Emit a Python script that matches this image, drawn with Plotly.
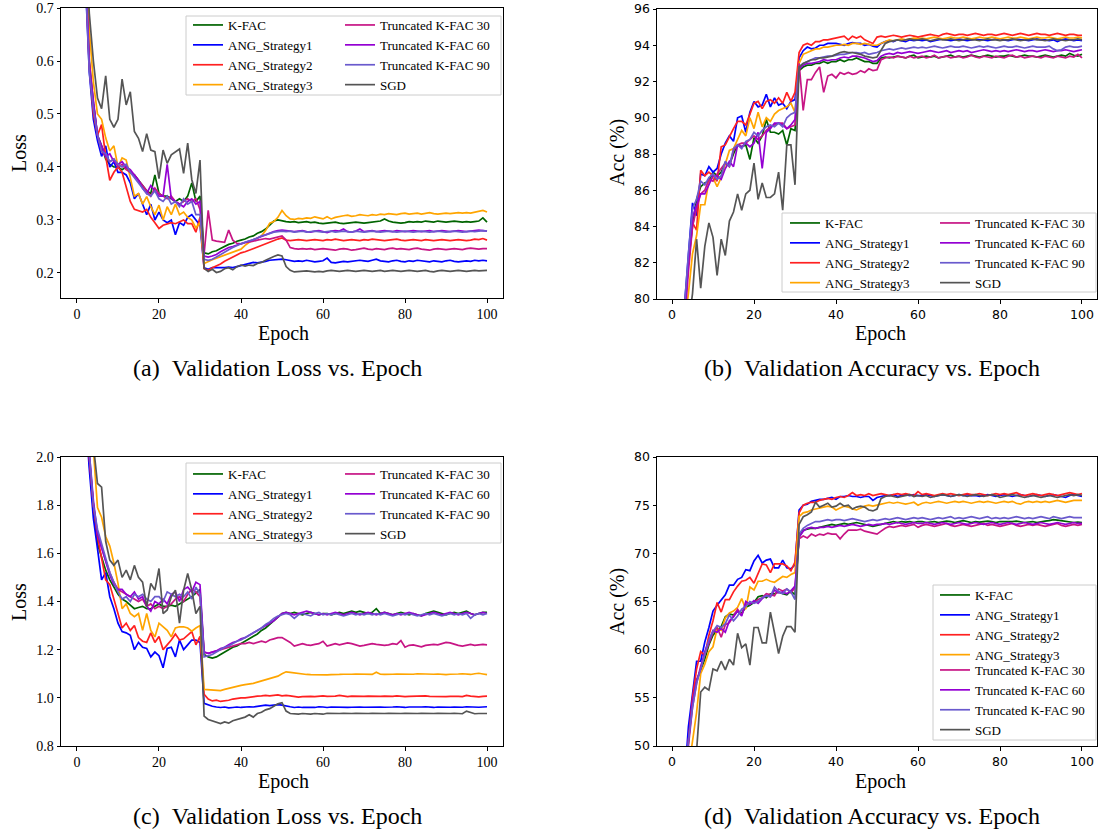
import plotly.graph_objects as go

EPOCHS = list(range(1, 101))
NAMES = ["K-FAC", "ANG_Strategy1", "ANG_Strategy2", "ANG_Strategy3",
         "Truncated K-FAC 30", "Truncated K-FAC 60", "Truncated K-FAC 90", "SGD"]
COLORS = ["#006400", "#0000ff", "#ff2020", "#ffa500",
          "#c71585", "#9400d3", "#6a5acd", "#555555"]

# ---------------- (a) validation loss ----------------
LOSS_A_KFAC = [1.30, 0.80, 0.60, 0.52, 0.46, 0.44, 0.415, 0.405, 0.40, 0.40,
    0.395, 0.40, 0.39, 0.385, 0.375, 0.365, 0.355, 0.35, 0.385, 0.35,
    0.345, 0.345, 0.34, 0.335, 0.34, 0.335, 0.345, 0.37, 0.335, 0.345,
    0.238, 0.236, 0.24, 0.242, 0.246, 0.25, 0.254, 0.256, 0.26, 0.262,
    0.264, 0.268, 0.27, 0.275, 0.278, 0.283, 0.29, 0.298, 0.30, 0.298,
    0.297, 0.296, 0.297, 0.295, 0.296, 0.297, 0.295, 0.296, 0.294, 0.293,
    0.294, 0.295, 0.296, 0.294, 0.293, 0.294, 0.295, 0.296, 0.295, 0.294,
    0.295, 0.296, 0.297, 0.298, 0.302, 0.298, 0.296, 0.295, 0.294, 0.295,
    0.297, 0.296, 0.297, 0.296, 0.298, 0.297, 0.296, 0.298, 0.297, 0.296,
    0.297, 0.298, 0.297, 0.296, 0.297, 0.296, 0.297, 0.298, 0.304, 0.296]
LOSS_A_ANG1 = [1.25, 0.76, 0.58, 0.49, 0.45, 0.42, 0.44, 0.40, 0.41, 0.39,
    0.39, 0.385, 0.37, 0.34, 0.35, 0.33, 0.31, 0.33, 0.30, 0.315,
    0.30, 0.295, 0.30, 0.272, 0.295, 0.29, 0.305, 0.31, 0.30, 0.29,
    0.21, 0.207, 0.21, 0.21, 0.209, 0.21, 0.211, 0.21, 0.212, 0.214,
    0.215, 0.218, 0.22, 0.219, 0.22, 0.222, 0.224, 0.225, 0.225, 0.226,
    0.225, 0.224, 0.222, 0.223, 0.222, 0.224, 0.223, 0.221, 0.222, 0.223,
    0.228, 0.22, 0.219, 0.221, 0.222, 0.221, 0.222, 0.223, 0.224, 0.223,
    0.222, 0.224, 0.226, 0.223, 0.222, 0.221, 0.223, 0.224, 0.222, 0.221,
    0.223, 0.222, 0.224, 0.223, 0.222, 0.221, 0.223, 0.222, 0.221, 0.223,
    0.224, 0.222, 0.221, 0.222, 0.223, 0.222, 0.224, 0.223, 0.224, 0.223]
LOSS_A_ANG2 = [1.28, 0.78, 0.59, 0.50, 0.46, 0.48, 0.42, 0.375, 0.39, 0.40,
    0.39, 0.36, 0.335, 0.32, 0.318, 0.315, 0.32, 0.305, 0.295, 0.284,
    0.29, 0.293, 0.295, 0.293, 0.296, 0.30, 0.293, 0.293, 0.277, 0.305,
    0.208, 0.205, 0.21, 0.213, 0.217, 0.222, 0.226, 0.23, 0.235, 0.238,
    0.24, 0.243, 0.247, 0.249, 0.252, 0.256, 0.258, 0.262, 0.264, 0.266,
    0.262, 0.261, 0.262, 0.263, 0.262, 0.261, 0.262, 0.263, 0.262, 0.261,
    0.263, 0.262, 0.264, 0.262, 0.261, 0.262, 0.263, 0.262, 0.261, 0.263,
    0.262, 0.264, 0.263, 0.262, 0.261, 0.262, 0.263, 0.264, 0.262, 0.261,
    0.262, 0.263, 0.262, 0.261, 0.263, 0.262, 0.261, 0.262, 0.263, 0.262,
    0.261, 0.262, 0.263, 0.262, 0.261, 0.262, 0.264, 0.263, 0.265, 0.262]
LOSS_A_ANG3 = [1.40, 0.85, 0.66, 0.56, 0.50, 0.49, 0.455, 0.43, 0.44, 0.40,
    0.417, 0.413, 0.38, 0.345, 0.35, 0.33, 0.344, 0.325, 0.31, 0.328,
    0.30, 0.325, 0.31, 0.33, 0.31, 0.315, 0.305, 0.30, 0.285, 0.295,
    0.218, 0.222, 0.225, 0.228, 0.231, 0.234, 0.237, 0.24, 0.242, 0.245,
    0.252, 0.258, 0.262, 0.266, 0.27, 0.28, 0.294, 0.297, 0.305, 0.318,
    0.308, 0.302, 0.301, 0.303, 0.302, 0.304, 0.303, 0.306, 0.304, 0.302,
    0.306, 0.302, 0.305, 0.307, 0.308, 0.309, 0.307, 0.308, 0.31, 0.309,
    0.308, 0.31, 0.309, 0.311, 0.31, 0.312, 0.311, 0.31, 0.312, 0.313,
    0.311, 0.312, 0.313, 0.311, 0.312, 0.314, 0.312, 0.311, 0.312, 0.313,
    0.312, 0.313, 0.314, 0.313, 0.314, 0.313, 0.315, 0.316, 0.318, 0.315]
LOSS_A_T30 = [1.30, 0.80, 0.60, 0.52, 0.46, 0.43, 0.42, 0.41, 0.415, 0.40,
    0.405, 0.395, 0.39, 0.385, 0.375, 0.365, 0.355, 0.345, 0.36, 0.35,
    0.345, 0.34, 0.345, 0.335, 0.33, 0.335, 0.34, 0.335, 0.34, 0.32,
    0.236, 0.318, 0.262, 0.26, 0.259, 0.258, 0.281, 0.262, 0.256, 0.255,
    0.257, 0.258, 0.26, 0.262, 0.263, 0.265, 0.264, 0.266, 0.268, 0.27,
    0.262, 0.248, 0.246, 0.245, 0.246, 0.245, 0.246, 0.244, 0.245, 0.246,
    0.245, 0.244, 0.243, 0.245, 0.246, 0.245, 0.243, 0.244, 0.246, 0.247,
    0.245, 0.244, 0.246, 0.245, 0.244, 0.246, 0.247, 0.245, 0.246, 0.245,
    0.244, 0.246, 0.247, 0.245, 0.244, 0.243, 0.245, 0.246, 0.245, 0.244,
    0.245, 0.246, 0.245, 0.244, 0.246, 0.247, 0.246, 0.245, 0.246, 0.246]
LOSS_A_T60 = [1.30, 0.79, 0.59, 0.52, 0.46, 0.44, 0.42, 0.425, 0.41, 0.405,
    0.41, 0.40, 0.395, 0.385, 0.375, 0.36, 0.35, 0.365, 0.355, 0.345,
    0.345, 0.405, 0.34, 0.335, 0.33, 0.325, 0.335, 0.34, 0.33, 0.335,
    0.232, 0.23, 0.232, 0.235, 0.24, 0.244, 0.248, 0.25, 0.253, 0.256,
    0.258, 0.26, 0.263, 0.266, 0.27, 0.273, 0.276, 0.278, 0.28, 0.281,
    0.28, 0.279, 0.278, 0.279, 0.28, 0.278, 0.277, 0.279, 0.28, 0.278,
    0.276, 0.279, 0.28, 0.279, 0.283, 0.278, 0.277, 0.279, 0.283, 0.278,
    0.279, 0.28, 0.278, 0.279, 0.28, 0.279, 0.278, 0.28, 0.279, 0.278,
    0.279, 0.28, 0.279, 0.278, 0.279, 0.28, 0.278, 0.279, 0.28, 0.279,
    0.278, 0.279, 0.28, 0.279, 0.278, 0.279, 0.28, 0.281, 0.28, 0.279]
LOSS_A_T90 = [1.28, 0.77, 0.58, 0.51, 0.46, 0.43, 0.425, 0.41, 0.415, 0.405,
    0.40, 0.405, 0.39, 0.38, 0.37, 0.36, 0.35, 0.345, 0.355, 0.34,
    0.335, 0.345, 0.33, 0.335, 0.325, 0.34, 0.33, 0.335, 0.31, 0.31,
    0.226, 0.224, 0.226, 0.23, 0.235, 0.24, 0.244, 0.248, 0.252, 0.255,
    0.258, 0.26, 0.263, 0.266, 0.27, 0.272, 0.275, 0.277, 0.278, 0.279,
    0.278, 0.279, 0.277, 0.278, 0.279, 0.277, 0.278, 0.279, 0.278, 0.277,
    0.278, 0.279, 0.277, 0.278, 0.279, 0.278, 0.277, 0.279, 0.278, 0.277,
    0.278, 0.279, 0.278, 0.277, 0.278, 0.279, 0.278, 0.277, 0.278, 0.279,
    0.278, 0.277, 0.278, 0.279, 0.278, 0.277, 0.278, 0.279, 0.278, 0.277,
    0.278, 0.279, 0.278, 0.277, 0.278, 0.279, 0.278, 0.279, 0.28, 0.279]
LOSS_A_SGD = [1.45, 0.85, 0.69, 0.60, 0.53, 0.51, 0.572, 0.49, 0.475, 0.49,
    0.566, 0.517, 0.542, 0.467, 0.454, 0.429, 0.463, 0.432, 0.429, 0.378,
    0.432, 0.407, 0.423, 0.428, 0.434, 0.388, 0.445, 0.376, 0.35, 0.413,
    0.209, 0.203, 0.207, 0.201, 0.203, 0.208, 0.21, 0.206, 0.212, 0.215,
    0.213, 0.215, 0.214, 0.218, 0.22, 0.224, 0.228, 0.231, 0.234, 0.232,
    0.212, 0.205, 0.202, 0.203, 0.203, 0.204, 0.203, 0.202, 0.203, 0.202,
    0.204, 0.205, 0.204, 0.203, 0.204, 0.205, 0.204, 0.203, 0.204, 0.205,
    0.204, 0.203, 0.204, 0.205, 0.203, 0.204, 0.205, 0.204, 0.203, 0.204,
    0.205, 0.204, 0.203, 0.204, 0.205, 0.203, 0.202, 0.204, 0.205, 0.204,
    0.203, 0.204, 0.205, 0.204, 0.203, 0.204, 0.205, 0.204, 0.204, 0.205]

# ---------------- (b) validation accuracy ----------------
ACC_B_KFAC = [70.0, 75.5, 79.0, 82.0, 84.0, 85.5, 86.2, 86.4, 86.5, 87.0,
    86.8, 87.0, 87.5, 87.4, 88.0, 88.5, 88.4, 88.5, 87.7, 88.9,
    88.6, 89.0, 89.9, 89.2, 89.2, 89.1, 89.3, 88.5, 89.4, 89.3,
    92.6, 92.8, 92.9, 92.9, 93.0, 93.0, 93.1, 93.0, 93.1, 93.1,
    93.2, 93.1, 93.2, 93.2, 93.3, 93.2, 93.1, 93.1, 93.0, 93.0,
    93.3, 93.35, 93.3, 93.35, 93.4, 93.35, 93.3, 93.4, 93.45, 93.3,
    93.35, 93.4, 93.35, 93.4, 93.3, 93.35, 93.4, 93.45, 93.35, 93.4,
    93.35, 93.4, 93.45, 93.4, 93.35, 93.4, 93.45, 93.4, 93.35, 93.4,
    93.4, 93.45, 93.4, 93.35, 93.4, 93.45, 93.4, 93.4, 93.35, 93.4,
    93.45, 93.4, 93.35, 93.4, 93.45, 93.4, 93.55, 93.45, 93.4, 93.5]
ACC_B_ANG1 = [70.5, 76.0, 79.5, 82.5, 85.3, 84.6, 86.9, 86.8, 87.3, 87.0,
    87.2, 88.0, 88.6, 89.0, 88.7, 90.0, 90.1, 89.2, 90.3, 90.9,
    90.6, 90.7, 91.3, 90.6, 91.1, 90.7, 90.8, 90.5, 90.9, 91.0,
    93.3, 93.7, 93.9, 93.8, 93.85, 94.0, 94.0, 94.1, 94.1, 94.1,
    94.05, 94.0, 94.1, 94.15, 94.1, 94.1, 94.0, 94.05, 93.95, 93.9,
    94.1, 94.2, 94.25, 94.2, 94.3, 94.25, 94.2, 94.3, 94.25, 94.3,
    94.25, 94.3, 94.2, 94.25, 94.3, 94.35, 94.3, 94.25, 94.3, 94.35,
    94.3, 94.25, 94.3, 94.35, 94.3, 94.3, 94.25, 94.3, 94.35, 94.3,
    94.3, 94.25, 94.3, 94.35, 94.3, 94.3, 94.25, 94.3, 94.35, 94.3,
    94.3, 94.25, 94.3, 94.2, 94.3, 94.35, 94.3, 94.25, 94.3, 94.25]
ACC_B_ANG2 = [70.0, 75.5, 79.3, 82.0, 84.2, 83.8, 87.1, 86.8, 87.0, 86.8,
    86.5, 88.4, 88.5, 89.0, 89.4, 89.8, 89.8, 89.6, 90.2, 90.8,
    90.9, 90.5, 90.9, 91.0, 90.8, 91.1, 90.8, 91.4, 90.9, 91.4,
    93.6, 94.0, 94.1, 94.0, 94.2, 94.2, 94.3, 94.3, 94.35, 94.4,
    94.45, 94.5, 94.3, 94.5, 94.4, 94.5, 94.3, 94.2, 94.1, 94.45,
    94.5, 94.45, 94.5, 94.55, 94.5, 94.45, 94.5, 94.55, 94.5, 94.45,
    94.5, 94.55, 94.6, 94.55, 94.5, 94.6, 94.65, 94.6, 94.55, 94.6,
    94.6, 94.55, 94.6, 94.65, 94.6, 94.55, 94.6, 94.6, 94.55, 94.6,
    94.65, 94.6, 94.55, 94.6, 94.65, 94.6, 94.55, 94.6, 94.65, 94.6,
    94.6, 94.55, 94.6, 94.65, 94.6, 94.55, 94.6, 94.6, 94.55, 94.55]
ACC_B_ANG3 = [69.5, 74.5, 78.5, 80.3, 82.5, 83.5, 85.2, 85.2, 86.5, 86.7,
    86.2, 86.7, 87.5, 88.2, 88.3, 88.8, 89.3, 89.0, 90.0, 89.4,
    90.3, 89.5, 90.0, 89.8, 90.2, 90.4, 90.5, 90.6, 90.8, 90.3,
    93.0, 93.5, 93.6, 93.7, 93.8, 93.8, 93.9, 93.9, 93.95, 94.0,
    94.0, 94.05, 94.0, 94.1, 94.1, 94.05, 94.1, 94.05, 94.0, 94.0,
    94.1, 94.2, 94.3, 94.25, 94.3, 94.35, 94.3, 94.35, 94.4, 94.35,
    94.4, 94.35, 94.4, 94.45, 94.4, 94.35, 94.4, 94.45, 94.4, 94.4,
    94.45, 94.4, 94.35, 94.4, 94.45, 94.4, 94.4, 94.45, 94.4, 94.35,
    94.4, 94.45, 94.4, 94.4, 94.45, 94.4, 94.35, 94.4, 94.45, 94.4,
    94.4, 94.45, 94.4, 94.35, 94.4, 94.45, 94.4, 94.4, 94.45, 94.4]
ACC_B_T30 = [69.5, 74.5, 78.5, 81.5, 84.0, 85.0, 85.8, 86.0, 86.6, 86.5,
    86.9, 87.2, 87.5, 87.3, 88.2, 88.5, 88.6, 88.6, 88.8, 89.0,
    88.8, 89.0, 89.3, 89.5, 89.6, 89.7, 89.7, 89.4, 89.5, 89.6,
    93.0, 90.4, 92.1, 92.1, 92.5, 92.8, 91.4, 92.3, 92.4, 92.2,
    92.5, 92.4, 92.5, 92.4, 92.45, 92.6, 92.5, 92.7, 92.6, 92.65,
    93.2, 93.3, 93.35, 93.3, 93.4, 93.35, 93.3, 93.4, 93.3, 93.35,
    93.4, 93.3, 93.35, 93.45, 93.3, 93.35, 93.4, 93.3, 93.35, 93.4,
    93.3, 93.35, 93.45, 93.35, 93.3, 93.4, 93.35, 93.3, 93.4, 93.35,
    93.3, 93.4, 93.45, 93.35, 93.4, 93.3, 93.35, 93.4, 93.35, 93.3,
    93.4, 93.35, 93.3, 93.4, 93.35, 93.3, 93.4, 93.35, 93.5, 93.3]
ACC_B_T60 = [70.0, 75.0, 79.0, 82.0, 84.5, 85.2, 85.8, 85.8, 86.3, 86.8,
    86.8, 86.6, 87.2, 87.6, 87.3, 88.5, 88.4, 88.6, 88.4, 88.6,
    89.2, 87.2, 89.2, 89.4, 89.7, 89.7, 89.6, 89.4, 89.6, 89.9,
    92.7, 92.9, 93.0, 93.0, 93.05, 93.1, 93.2, 93.15, 93.2, 93.2,
    93.3, 93.35, 93.3, 93.4, 93.4, 93.35, 93.3, 93.2, 93.1, 93.15,
    93.4, 93.5, 93.55, 93.5, 93.6, 93.55, 93.6, 93.65, 93.6, 93.55,
    93.6, 93.65, 93.7, 93.65, 93.6, 93.65, 93.7, 93.6, 93.65, 93.7,
    93.65, 93.7, 93.6, 93.65, 93.7, 93.75, 93.7, 93.65, 93.7, 93.65,
    93.7, 93.65, 93.7, 93.75, 93.7, 93.65, 93.7, 93.7, 93.65, 93.7,
    93.75, 93.7, 93.65, 93.7, 93.7, 93.75, 93.7, 93.65, 93.7, 93.75]
ACC_B_T90 = [70.5, 75.5, 79.5, 82.5, 85.0, 85.5, 86.5, 86.3, 86.7, 86.9,
    86.6, 86.8, 87.6, 87.3, 88.3, 88.5, 88.3, 88.7, 88.8, 89.2,
    89.0, 89.3, 89.5, 89.6, 89.5, 89.7, 89.5, 90.0, 90.2, 90.3,
    92.8, 93.0, 93.1, 93.2, 93.3, 93.3, 93.35, 93.4, 93.4, 93.45,
    93.5, 93.5, 93.55, 93.6, 93.6, 93.55, 93.6, 93.5, 93.55, 93.6,
    93.7, 93.75, 93.8, 93.75, 93.8, 93.85, 93.8, 93.85, 93.9, 93.85,
    93.9, 93.85, 93.9, 93.95, 93.9, 93.85, 93.9, 93.95, 93.9, 93.9,
    93.95, 93.9, 93.85, 93.9, 93.95, 93.9, 93.95, 93.9, 93.85, 93.9,
    93.95, 93.9, 93.9, 93.95, 93.9, 93.85, 93.9, 93.95, 93.9, 93.9,
    93.9, 93.95, 93.8, 93.7, 93.75, 93.9, 93.95, 93.9, 93.9, 93.95]
ACC_B_SGD = [65.0, 72.0, 76.0, 78.5, 80.3, 83.3, 80.6, 82.9, 84.2, 83.4,
    81.3, 83.3, 82.4, 84.3, 84.8, 85.8, 84.9, 85.8, 86.0, 87.5,
    85.5, 86.4, 85.6, 85.6, 85.8, 87.0, 84.9, 88.5, 88.5, 86.3,
    92.8, 93.0, 93.1, 93.2, 93.2, 93.3, 93.3, 93.35, 93.4, 93.5,
    93.6, 93.65, 93.6, 93.6, 93.55, 93.5, 93.4, 93.35, 93.3, 93.35,
    93.7, 94.1, 94.2, 94.25, 94.3, 94.25, 94.3, 94.35, 94.3, 94.3,
    94.35, 94.3, 94.25, 94.3, 94.35, 94.3, 94.3, 94.35, 94.3, 94.25,
    94.3, 94.35, 94.3, 94.3, 94.25, 94.3, 94.35, 94.3, 94.3, 94.25,
    94.3, 94.3, 94.35, 94.3, 94.25, 94.3, 94.3, 94.35, 94.3, 94.3,
    94.25, 94.3, 94.35, 94.3, 94.3, 94.25, 94.3, 94.3, 94.35, 94.3]

# ---------------- (c) validation loss ----------------
LOSS_C_KFAC = [2.6, 2.25, 1.98, 1.78, 1.64, 1.58, 1.53, 1.49, 1.46, 1.43,
    1.41, 1.40, 1.385, 1.37, 1.375, 1.38, 1.37, 1.37, 1.38, 1.39,
    1.38, 1.38, 1.385, 1.38, 1.39, 1.40, 1.41, 1.42, 1.435, 1.45,
    1.18, 1.17, 1.165, 1.17, 1.18, 1.19, 1.20, 1.21, 1.215, 1.225,
    1.235, 1.245, 1.255, 1.265, 1.28, 1.29, 1.305, 1.32, 1.335, 1.35,
    1.355, 1.35, 1.355, 1.35, 1.345, 1.35, 1.355, 1.35, 1.345, 1.35,
    1.35, 1.345, 1.35, 1.355, 1.35, 1.355, 1.36, 1.355, 1.36, 1.355,
    1.35, 1.355, 1.37, 1.35, 1.355, 1.35, 1.345, 1.35, 1.355, 1.35,
    1.345, 1.35, 1.345, 1.34, 1.35, 1.355, 1.36, 1.355, 1.35, 1.345,
    1.35, 1.355, 1.35, 1.355, 1.36, 1.35, 1.345, 1.35, 1.355, 1.355]
LOSS_C_ANG1 = [2.55, 2.2, 1.95, 1.745, 1.62, 1.49, 1.52, 1.42, 1.37, 1.31,
    1.275, 1.27, 1.26, 1.20, 1.23, 1.21, 1.205, 1.17, 1.19, 1.175,
    1.125, 1.205, 1.21, 1.17, 1.24, 1.20, 1.22, 1.24, 1.24, 1.23,
    0.977, 0.97, 0.965, 0.962, 0.96, 0.962, 0.958, 0.96, 0.962, 0.96,
    0.962, 0.963, 0.962, 0.965, 0.968, 0.97, 0.968, 0.97, 0.972, 0.97,
    0.968, 0.963, 0.96, 0.962, 0.96, 0.962, 0.961, 0.96, 0.963, 0.962,
    0.96, 0.962, 0.961, 0.963, 0.962, 0.96, 0.961, 0.963, 0.962, 0.961,
    0.962, 0.96, 0.963, 0.962, 0.961, 0.96, 0.962, 0.963, 0.961, 0.96,
    0.962, 0.961, 0.96, 0.962, 0.963, 0.961, 0.96, 0.962, 0.961, 0.96,
    0.961, 0.962, 0.96, 0.961, 0.963, 0.962, 0.96, 0.961, 0.962, 0.963]
LOSS_C_ANG2 = [2.6, 2.25, 2.0, 1.80, 1.67, 1.58, 1.49, 1.47, 1.41, 1.36,
    1.29, 1.31, 1.28, 1.30, 1.25, 1.235, 1.23, 1.27, 1.23, 1.255,
    1.20, 1.22, 1.24, 1.265, 1.24, 1.245, 1.26, 1.275, 1.22, 1.255,
    1.015, 0.995, 0.987, 0.99, 0.985, 0.987, 0.99, 0.995, 0.998, 1.0,
    1.0, 1.003, 1.005, 1.007, 1.008, 1.01, 1.008, 1.01, 1.012, 1.008,
    1.01, 1.008, 1.006, 1.003, 1.005, 1.007, 1.006, 1.005, 1.007, 1.008,
    1.006, 1.005, 1.007, 1.01, 1.006, 1.005, 1.007, 1.006, 1.005, 1.006,
    1.007, 1.006, 1.005, 1.006, 1.007, 1.005, 1.006, 1.008, 1.006, 1.005,
    1.006, 1.007, 1.005, 1.006, 1.008, 1.006, 1.005, 1.007, 1.006, 1.005,
    1.006, 1.007, 1.006, 1.005, 1.01, 1.007, 1.005, 1.004, 1.006, 1.007]
LOSS_C_ANG3 = [2.7, 2.4, 2.2, 2.03, 1.79, 1.75, 1.67, 1.63, 1.56, 1.475,
    1.37, 1.39, 1.35, 1.337, 1.35, 1.28, 1.35, 1.28, 1.253, 1.31,
    1.295, 1.28, 1.253, 1.29, 1.295, 1.295, 1.29, 1.277, 1.29, 1.30,
    1.035, 1.033, 1.032, 1.03, 1.03, 1.035, 1.04, 1.045, 1.048, 1.052,
    1.055, 1.057, 1.06, 1.065, 1.07, 1.075, 1.08, 1.085, 1.09, 1.10,
    1.108, 1.106, 1.103, 1.1, 1.098, 1.097, 1.096, 1.095, 1.097, 1.096,
    1.095, 1.096, 1.095, 1.097, 1.098, 1.097, 1.098, 1.099, 1.098, 1.097,
    1.096, 1.097, 1.106, 1.098, 1.097, 1.096, 1.098, 1.099, 1.098, 1.1,
    1.099, 1.098, 1.1, 1.099, 1.098, 1.097, 1.098, 1.099, 1.097, 1.096,
    1.098, 1.097, 1.099, 1.1, 1.098, 1.097, 1.1, 1.102, 1.099, 1.096]
LOSS_C_T30 = [2.6, 2.25, 2.0, 1.80, 1.68, 1.62, 1.57, 1.52, 1.48, 1.45,
    1.44, 1.43, 1.42, 1.41, 1.40, 1.41, 1.38, 1.39, 1.37, 1.38,
    1.37, 1.38, 1.39, 1.41, 1.42, 1.40, 1.43, 1.45, 1.44, 1.42,
    1.19, 1.185, 1.19, 1.195, 1.20, 1.205, 1.21, 1.215, 1.22, 1.225,
    1.225, 1.23, 1.225, 1.23, 1.235, 1.23, 1.24, 1.245, 1.25, 1.25,
    1.24, 1.23, 1.215, 1.22, 1.225, 1.22, 1.218, 1.222, 1.225, 1.235,
    1.215, 1.22, 1.225, 1.22, 1.224, 1.228, 1.225, 1.22, 1.215, 1.218,
    1.222, 1.225, 1.222, 1.22, 1.218, 1.22, 1.225, 1.222, 1.238, 1.21,
    1.218, 1.22, 1.215, 1.212, 1.218, 1.22, 1.222, 1.22, 1.225, 1.23,
    1.228, 1.222, 1.218, 1.215, 1.22, 1.222, 1.218, 1.22, 1.222, 1.22]
LOSS_C_T60 = [2.6, 2.25, 2.02, 1.82, 1.68, 1.62, 1.56, 1.51, 1.47, 1.45,
    1.45, 1.43, 1.42, 1.44, 1.41, 1.42, 1.38, 1.36, 1.40, 1.39,
    1.41, 1.39, 1.43, 1.44, 1.40, 1.45, 1.46, 1.44, 1.48, 1.47,
    1.19, 1.185, 1.19, 1.195, 1.205, 1.21, 1.22, 1.23, 1.235, 1.245,
    1.25, 1.26, 1.27, 1.28, 1.29, 1.30, 1.31, 1.32, 1.335, 1.35,
    1.355, 1.35, 1.345, 1.35, 1.355, 1.36, 1.355, 1.35, 1.345, 1.35,
    1.345, 1.35, 1.355, 1.35, 1.345, 1.35, 1.355, 1.35, 1.345, 1.35,
    1.355, 1.35, 1.345, 1.35, 1.355, 1.35, 1.345, 1.35, 1.345, 1.35,
    1.355, 1.35, 1.345, 1.34, 1.345, 1.35, 1.355, 1.35, 1.345, 1.35,
    1.355, 1.35, 1.345, 1.35, 1.355, 1.35, 1.345, 1.35, 1.355, 1.35]
LOSS_C_T90 = [2.6, 2.25, 2.02, 1.80, 1.70, 1.64, 1.58, 1.52, 1.48, 1.44,
    1.41, 1.42, 1.40, 1.43, 1.42, 1.43, 1.41, 1.40, 1.42, 1.42,
    1.40, 1.44, 1.43, 1.42, 1.43, 1.42, 1.44, 1.41, 1.46, 1.43,
    1.17, 1.175, 1.18, 1.19, 1.20, 1.21, 1.215, 1.225, 1.235, 1.24,
    1.25, 1.26, 1.27, 1.28, 1.29, 1.305, 1.315, 1.33, 1.34, 1.345,
    1.35, 1.345, 1.33, 1.345, 1.35, 1.345, 1.34, 1.35, 1.355, 1.345,
    1.35, 1.345, 1.35, 1.345, 1.34, 1.345, 1.35, 1.345, 1.35, 1.345,
    1.35, 1.345, 1.35, 1.345, 1.35, 1.345, 1.34, 1.345, 1.35, 1.345,
    1.35, 1.345, 1.34, 1.345, 1.35, 1.345, 1.35, 1.345, 1.34, 1.345,
    1.35, 1.345, 1.35, 1.345, 1.35, 1.33, 1.345, 1.35, 1.345, 1.35]
LOSS_C_SGD = [2.7, 2.4, 2.2, 2.05, 1.89, 1.875, 1.65, 1.572, 1.55, 1.572,
    1.50, 1.53, 1.49, 1.55, 1.50, 1.48, 1.378, 1.475, 1.447, 1.537,
    1.35, 1.365, 1.42, 1.447, 1.31, 1.447, 1.516, 1.447, 1.35, 1.38,
    0.924, 0.91, 0.905, 0.90, 0.893, 0.90, 0.895, 0.905, 0.91, 0.915,
    0.92, 0.93, 0.92, 0.935, 0.94, 0.95, 0.955, 0.965, 0.975, 0.98,
    0.945, 0.935, 0.933, 0.932, 0.935, 0.934, 0.932, 0.935, 0.933, 0.932,
    0.936, 0.935, 0.934, 0.935, 0.936, 0.934, 0.935, 0.936, 0.935, 0.934,
    0.935, 0.936, 0.935, 0.934, 0.935, 0.936, 0.935, 0.934, 0.935, 0.936,
    0.935, 0.934, 0.935, 0.936, 0.935, 0.934, 0.935, 0.936, 0.935, 0.934,
    0.935, 0.936, 0.935, 0.934, 0.945, 0.938, 0.934, 0.935, 0.936, 0.935]

# ---------------- (d) validation accuracy ----------------
ACC_D_KFAC = [30, 38, 45, 51, 54.5, 56.8, 58.0, 59.0, 60.5, 61.5,
    62.0, 62.4, 63.4, 63.7, 63.6, 64.0, 63.8, 64.4, 64.6, 64.9,
    65.5, 65.6, 65.4, 65.8, 65.8, 66.0, 65.8, 65.7, 66.1, 65.7,
    71.7, 72.4, 72.5, 72.6, 72.6, 72.7, 72.8, 72.9, 73.0, 72.9,
    73.0, 73.1, 73.0, 73.1, 73.2, 73.1, 73.0, 72.9, 72.8, 72.9,
    73.0, 73.1, 73.2, 73.3, 73.2, 73.3, 73.25, 73.3, 73.2, 73.3,
    73.3, 73.2, 73.25, 73.3, 73.2, 73.3, 73.35, 73.3, 73.2, 73.3,
    73.4, 73.3, 73.2, 73.3, 73.25, 73.3, 73.35, 73.3, 73.2, 73.3,
    73.3, 73.25, 73.3, 73.35, 73.3, 73.2, 73.25, 73.3, 73.2, 73.3,
    73.35, 73.4, 73.5, 73.45, 73.4, 73.35, 73.3, 73.2, 73.25, 73.2]
ACC_D_ANG1 = [30, 38, 46, 52.0, 55.5, 58.8, 58.8, 60.8, 62.3, 64.0,
    64.6, 65.2, 65.7, 66.7, 66.7, 67.3, 67.5, 68.3, 68.2, 69.2,
    69.8, 69.0, 69.3, 69.4, 68.5, 68.5, 69.3, 68.5, 68.4, 68.8,
    74.5, 75.0, 75.1, 75.4, 75.5, 75.6, 75.6, 75.7, 75.8, 75.6,
    75.9, 75.9, 76.0, 75.9, 75.9, 75.8, 75.9, 75.9, 75.5, 75.8,
    75.9, 76.0, 76.0, 76.1, 75.9, 76.0, 76.1, 76.0, 76.1, 76.0,
    76.0, 76.1, 76.0, 75.9, 76.0, 76.1, 76.0, 75.9, 76.0, 76.1,
    76.0, 76.1, 76.0, 76.0, 75.9, 76.0, 76.1, 76.0, 75.9, 76.0,
    76.1, 76.0, 75.9, 76.0, 76.1, 76.0, 75.9, 76.0, 76.1, 76.0,
    75.9, 76.0, 76.1, 76.0, 75.9, 75.8, 76.0, 76.1, 76.0, 75.9]
ACC_D_ANG2 = [30, 38, 45.5, 50.5, 55.0, 58.0, 59.8, 59.4, 61.5, 63.0,
    64.9, 63.9, 65.2, 65.2, 66.0, 66.6, 67.1, 67.2, 67.5, 66.9,
    68.0, 68.9, 68.8, 68.0, 68.9, 68.9, 68.9, 68.7, 68.2, 69.1,
    74.2, 75.0, 75.2, 75.3, 75.3, 75.5, 75.6, 75.7, 75.6, 75.8,
    75.9, 75.8, 76.0, 76.3, 76.0, 76.1, 76.0, 76.2, 76.0, 76.1,
    76.2, 76.1, 76.0, 76.1, 76.2, 76.1, 76.2, 76.1, 76.0, 76.4,
    76.1, 76.2, 76.1, 76.0, 76.1, 76.2, 76.1, 76.2, 76.1, 76.0,
    76.1, 76.2, 76.1, 76.1, 76.2, 76.1, 76.0, 76.1, 76.2, 76.1,
    76.2, 76.1, 76.2, 76.3, 76.1, 76.0, 76.1, 76.2, 76.1, 76.0,
    76.1, 76.2, 76.1, 76.0, 76.1, 76.2, 76.3, 76.2, 76.1, 76.2]
ACC_D_ANG3 = [28, 36, 43, 47.5, 50.5, 53.5, 57.5, 58.5, 59.8, 60.3,
    62.2, 62.0, 63.3, 63.8, 64.0, 64.4, 65.3, 64.2, 66.5, 66.2,
    67.1, 67.1, 67.3, 67.1, 67.0, 67.3, 67.6, 67.5, 67.8, 68.0,
    73.8, 74.2, 74.3, 74.5, 74.6, 74.7, 74.8, 74.9, 74.8, 74.5,
    74.7, 74.9, 74.8, 74.6, 74.5, 74.7, 74.9, 75.0, 74.9, 75.0,
    75.1, 75.2, 75.3, 75.2, 75.3, 75.2, 75.1, 75.2, 75.3, 75.0,
    75.2, 75.3, 75.2, 75.3, 75.4, 75.3, 75.2, 75.3, 75.4, 75.3,
    75.4, 75.3, 75.2, 75.3, 75.4, 75.3, 75.4, 75.3, 75.2, 75.3,
    75.4, 75.3, 75.4, 75.2, 75.1, 75.3, 75.4, 75.3, 75.4, 75.3,
    75.4, 75.3, 75.4, 75.5, 75.4, 75.3, 75.4, 75.5, 75.5, 75.5]
ACC_D_T30 = [30, 38, 44.5, 50.0, 54.0, 56.5, 58.3, 59.5, 60.6, 61.8,
    62.3, 61.3, 62.6, 62.8, 63.5, 64.2, 63.6, 64.7, 64.8, 64.9,
    65.2, 65.4, 65.8, 65.7, 65.6, 66.3, 66.1, 66.3, 65.9, 66.4,
    71.5, 71.8, 71.6, 72.0, 71.8, 72.0, 71.9, 72.1, 72.0, 72.0,
    71.5, 72.0, 72.4, 72.4, 72.4, 72.5, 72.3, 72.2, 72.1, 72.0,
    72.3, 72.6, 72.8, 72.7, 72.8, 72.9, 72.8, 72.9, 73.0, 72.7,
    72.9, 73.0, 72.9, 72.8, 72.9, 73.0, 73.1, 72.9, 72.8, 72.9,
    73.0, 72.9, 72.8, 72.9, 73.0, 73.1, 72.9, 73.0, 72.9, 72.8,
    72.9, 73.0, 73.1, 72.9, 72.8, 72.9, 73.0, 72.9, 73.0, 72.9,
    72.8, 72.9, 73.0, 73.1, 72.9, 72.8, 72.9, 73.0, 72.9, 73.0]
ACC_D_T60 = [30, 38, 45, 50.5, 54.5, 56.8, 58.0, 59.8, 61.0, 62.0,
    61.8, 62.2, 61.8, 63.0, 63.4, 64.0, 63.5, 65.0, 64.7, 65.1,
    64.8, 65.3, 65.6, 65.5, 66.2, 65.9, 66.0, 65.8, 66.1, 66.6,
    71.7, 72.3, 72.6, 72.7, 72.6, 72.7, 72.7, 72.8, 72.7, 72.8,
    72.9, 72.8, 72.9, 73.0, 72.9, 72.8, 72.9, 73.0, 72.9, 73.0,
    73.0, 73.1, 73.0, 73.1, 73.2, 73.1, 73.0, 73.1, 73.2, 73.1,
    73.1, 73.2, 73.1, 73.0, 73.1, 73.2, 73.1, 73.0, 73.1, 73.2,
    73.1, 73.0, 73.1, 73.2, 73.1, 73.0, 73.1, 73.2, 73.1, 73.0,
    73.1, 73.2, 73.1, 73.0, 73.1, 73.2, 73.1, 73.0, 73.1, 73.2,
    73.1, 73.0, 73.1, 73.2, 73.1, 73.0, 73.1, 73.2, 73.1, 73.1]
ACC_D_T90 = [30, 38, 45, 50.5, 54.0, 56.5, 58.0, 59.5, 61.0, 61.9,
    62.5, 62.3, 62.7, 63.6, 63.0, 63.5, 64.2, 64.5, 65.0, 64.8,
    65.0, 65.4, 65.6, 65.5, 66.5, 66.0, 65.8, 66.3, 66.0, 65.2,
    72.0, 72.6, 72.9, 73.1, 73.3, 73.3, 73.4, 73.5, 73.4, 73.5,
    73.5, 73.4, 73.5, 73.6, 73.5, 73.4, 73.3, 73.4, 73.5, 73.4,
    73.5, 73.6, 73.5, 73.6, 73.7, 73.6, 73.5, 73.6, 73.7, 73.6,
    73.7, 73.6, 73.5, 73.6, 73.7, 73.6, 73.7, 73.8, 73.6, 73.7,
    73.6, 73.7, 73.8, 73.7, 73.6, 73.7, 73.8, 73.6, 73.7, 73.6,
    73.7, 73.6, 73.7, 73.8, 73.7, 73.6, 73.7, 73.6, 73.7, 73.8,
    73.7, 73.6, 73.8, 73.7, 73.6, 73.7, 73.8, 73.7, 73.7, 73.7]
ACC_D_SGD = [25, 33, 40, 44.5, 47.5, 49.5, 55.6, 56.1, 55.8, 58.0,
    57.8, 58.8, 57.9, 59.0, 58.4, 61.7, 60.2, 60.6, 58.4, 62.3,
    62.3, 60.7, 60.7, 63.9, 61.9, 59.6, 61.4, 62.4, 62.4, 61.8,
    73.0, 73.8, 74.0, 74.3, 75.3, 74.8, 75.0, 75.2, 74.8, 74.9,
    75.2, 74.9, 75.0, 74.6, 74.8, 74.9, 74.8, 74.5, 74.4, 74.6,
    75.7, 75.9, 76.0, 75.9, 75.8, 75.9, 76.0, 76.1, 75.9, 76.0,
    75.9, 76.0, 75.8, 75.9, 76.0, 76.1, 76.0, 75.9, 76.0, 76.1,
    76.0, 75.9, 76.0, 76.1, 76.0, 75.9, 76.0, 76.1, 76.0, 75.8,
    75.9, 76.0, 76.1, 76.0, 75.9, 75.8, 75.9, 76.0, 75.9, 75.8,
    75.9, 76.0, 75.9, 75.8, 75.9, 76.0, 76.1, 76.0, 76.1, 76.0]

PANEL_A = [LOSS_A_KFAC, LOSS_A_ANG1, LOSS_A_ANG2, LOSS_A_ANG3, LOSS_A_T30, LOSS_A_T60, LOSS_A_T90, LOSS_A_SGD]
PANEL_B = [ACC_B_KFAC, ACC_B_ANG1, ACC_B_ANG2, ACC_B_ANG3, ACC_B_T30, ACC_B_T60, ACC_B_T90, ACC_B_SGD]
PANEL_C = [LOSS_C_KFAC, LOSS_C_ANG1, LOSS_C_ANG2, LOSS_C_ANG3, LOSS_C_T30, LOSS_C_T60, LOSS_C_T90, LOSS_C_SGD]
PANEL_D = [ACC_D_KFAC, ACC_D_ANG1, ACC_D_ANG2, ACC_D_ANG3, ACC_D_T30, ACC_D_T60, ACC_D_T90, ACC_D_SGD]
for panel in (PANEL_A, PANEL_B, PANEL_C, PANEL_D):
    for s in panel:
        assert len(s) == 100, len(s)

CAPTIONS = ["(a)\u2002Validation Loss vs. Epoch", "(b)\u2002Validation Accuracy vs. Epoch",
            "(c)\u2002Validation Loss vs. Epoch", "(d)\u2002Validation Accuracy vs. Epoch"]

W, H = 1100, 836
SERIF = "Liberation Serif, Times New Roman, serif"
SANS = "DejaVu Sans, sans-serif"


def fx(p):
    return p / W


def fy(p):
    return 1 - p / H


fig = go.Figure()

LEG = {1: ("legend", "legend2"), 2: ("legend3", "legend4"),
       3: ("legend5", "legend6"), 4: ("legend7", "legend8")}

for pi, panel in enumerate([PANEL_A, PANEL_B, PANEL_C, PANEL_D], start=1):
    ax = "" if pi == 1 else str(pi)
    for si, series in enumerate(panel):
        fig.add_trace(go.Scatter(
            x=EPOCHS, y=series, mode="lines", name=NAMES[si],
            line=dict(color=COLORS[si], width=1.7),
            xaxis="x" + ax, yaxis="y" + ax,
            legend=LEG[pi][0] if si < 4 else LEG[pi][1],
            hoverinfo="skip"))

axis_common = dict(showline=True, linecolor="black", linewidth=1, mirror=True,
                   ticks="outside", ticklen=3.5, tickwidth=1, tickcolor="black",
                   showgrid=False, zeroline=False)

serif_tick = dict(family=SERIF, size=14, color="black")
sans_tick = dict(family=SANS, size=12.5, color="black")

XA = [61, 503]
XB = [657, 1097]
YTOP = [8, 298]
YBOT = [457, 746]

layout = dict(
    width=W, height=H, margin=dict(l=0, r=0, t=0, b=0, autoexpand=False),
    paper_bgcolor="white", plot_bgcolor="white", showlegend=True, hovermode=False,
    xaxis=dict(domain=[fx(XA[0]), fx(XA[1])], range=[-3.9, 103.9], anchor="y",
               tickvals=[0, 20, 40, 60, 80, 100], tickfont=serif_tick, **axis_common),
    yaxis=dict(domain=[fy(YTOP[1]), fy(YTOP[0])], range=[0.1528, 0.7], anchor="x",
               tickvals=[0.2, 0.3, 0.4, 0.5, 0.6, 0.7], tickformat=".1f", tickfont=serif_tick, **axis_common),
    xaxis2=dict(domain=[fx(XB[0]), fx(XB[1])], range=[-3.66, 103.66], anchor="y2",
                tickvals=[0, 20, 40, 60, 80, 100], tickfont=sans_tick, **axis_common),
    yaxis2=dict(domain=[fy(YTOP[1] + 1), fy(YTOP[0] + 1)], range=[80, 96], anchor="x2",
                tickvals=[80, 82, 84, 86, 88, 90, 92, 94, 96], tickfont=sans_tick, **axis_common),
    xaxis3=dict(domain=[fx(XA[0]), fx(XA[1])], range=[-3.9, 103.9], anchor="y3",
                tickvals=[0, 20, 40, 60, 80, 100], tickfont=serif_tick, **axis_common),
    yaxis3=dict(domain=[fy(YBOT[1]), fy(YBOT[0])], range=[0.8, 2.0], anchor="x3",
                tickvals=[0.8, 1.0, 1.2, 1.4, 1.6, 1.8, 2.0], tickformat=".1f", tickfont=serif_tick, **axis_common),
    xaxis4=dict(domain=[fx(XB[0]), fx(XB[1])], range=[-3.66, 103.66], anchor="y4",
                tickvals=[0, 20, 40, 60, 80, 100], tickfont=sans_tick, **axis_common),
    yaxis4=dict(domain=[fy(YBOT[1]), fy(YBOT[0])], range=[50, 80], anchor="x4",
                tickvals=[50, 55, 60, 65, 70, 75, 80], tickfont=sans_tick, **axis_common),
)

leg_font = dict(family=SERIF, size=13, color="black")


def leg(left, top):
    return dict(x=fx(left), y=fy(top), xref="paper", yref="paper",
                xanchor="left", yanchor="top", bgcolor="rgba(0,0,0,0)",
                borderwidth=0, font=leg_font, tracegroupgap=0, orientation="v")


layout["legend"] = leg(188, 10)
layout["legend2"] = leg(340, 10)
layout["legend3"] = leg(785, 208)
layout["legend4"] = leg(935, 208)
layout["legend5"] = leg(188, 459)
layout["legend6"] = leg(340, 459)
layout["legend7"] = leg(935, 580)
layout["legend8"] = leg(935, 655)

box_style = dict(type="rect", xref="paper", yref="paper", layer="above",
                 line=dict(color="#cccccc", width=1), fillcolor="rgba(255,255,255,0.8)")
boxes = [(186, 16, 501, 95), (782, 213, 1096, 292), (186, 463, 501, 543), (933, 585, 1096, 740)]
layout["shapes"] = [dict(x0=fx(a), x1=fx(c), y0=fy(d), y1=fy(b), **box_style) for a, b, c, d in boxes]

ann = []
title_font = dict(family=SERIF, size=20, color="black")
cap_font = dict(family=SERIF, size=24, color="black")
for cx, cy, txt in [(283, 333, "Epoch"), (880, 333, "Epoch"), (283, 781, "Epoch"), (880, 781, "Epoch")]:
    ann.append(dict(x=fx(cx), y=fy(cy), xref="paper", yref="paper", text=txt, showarrow=False,
                    xanchor="center", yanchor="middle", font=title_font))
for cx, cy, txt in [(19, 153, "Loss"), (617, 153, "Acc (%)"), (19, 602, "Loss"), (617, 602, "Acc (%)")]:
    ann.append(dict(x=fx(cx), y=fy(cy), xref="paper", yref="paper", text=txt, showarrow=False,
                    xanchor="center", yanchor="middle", textangle=-90, font=title_font))
for (cx, cy), txt in zip([(277, 368), (872, 368), (277, 816), (872, 816)], CAPTIONS):
    ann.append(dict(x=fx(cx), y=fy(cy), xref="paper", yref="paper", text=txt, showarrow=False,
                    xanchor="center", yanchor="middle", font=cap_font))
layout["annotations"] = ann

fig.update_layout(**layout)
fig.write_html("out.html", config={"displayModeBar": False, "staticPlot": True},
               post_script="document.body.style.margin='0';document.body.style.overflow='hidden';")
